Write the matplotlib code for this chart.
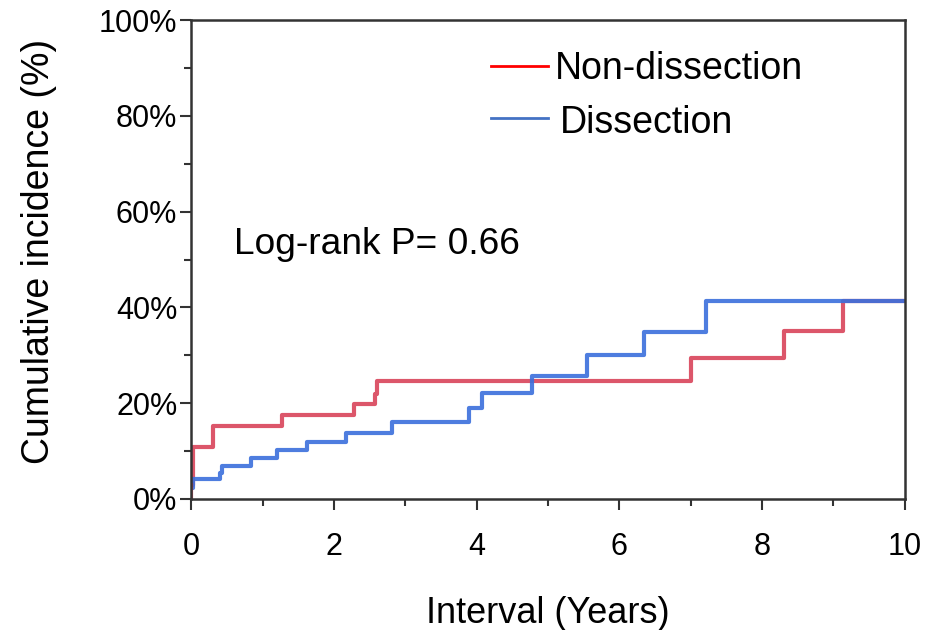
import matplotlib
matplotlib.use("Agg")
import matplotlib.pyplot as plt
from matplotlib.ticker import MultipleLocator, FuncFormatter

plt.rcParams['font.family'] = ['Liberation Sans', 'DejaVu Sans']

# Non-dissection step curve (years, cumulative incidence %)
red_t = [0, 0.02, 0.30, 0.31, 0.34, 1.27, 2.28, 2.57, 2.60, 7.01, 8.31, 9.14, 10]
red_y = [3.0, 10.9, 13.0, 15.3, 15.3, 17.5, 19.8, 22.0, 24.7, 29.5, 35.1, 41.4, 41.4]

# Dissection step curve
blue_t = [0, 0.02, 0.40, 0.43, 0.84, 1.20, 1.62, 2.17, 2.81, 3.90, 4.07, 4.78, 5.54, 6.34, 7.22, 10]
blue_y = [2.3, 4.2, 5.4, 6.9, 8.5, 10.2, 12.0, 13.7, 16.0, 19.1, 22.1, 25.7, 30.0, 34.9, 41.4, 41.4]

fig = plt.figure(figsize=(9.28, 6.3), dpi=100)
ax = fig.add_axes([0.206, 0.208, 0.769, 0.760])

ax.step(red_t, red_y, where='post', color='#d9435a', lw=3, alpha=0.9)
ax.step(blue_t, blue_y, where='post', color='#3b6fdc', lw=3, alpha=0.9)
ax.plot([0, 0], [0, red_y[0]], color='#d9435a', lw=3, alpha=0.9)

ax.set_xlim(0, 10)
ax.set_ylim(0, 100)
ax.xaxis.set_major_locator(MultipleLocator(2))
ax.xaxis.set_minor_locator(MultipleLocator(1))
ax.yaxis.set_major_locator(MultipleLocator(20))
ax.yaxis.set_minor_locator(MultipleLocator(10))
ax.yaxis.set_major_formatter(FuncFormatter(lambda v, p: '%d%%' % v))
ax.tick_params(which='both', direction='out', width=1.5, color='#333333', labelsize=22)
ax.tick_params(which='major', length=8)
ax.tick_params(which='minor', length=5)
ax.tick_params(axis='x', pad=16)
ax.tick_params(axis='y', pad=2)
for s in ax.spines.values():
    s.set_linewidth(1.8)
    s.set_color('#333333')

ax.set_xlabel('Interval (Years)', fontsize=26, labelpad=24)
ax.set_ylabel('Cumulative incidence (%)', fontsize=27, labelpad=30)
ax.yaxis.label.set_y(0.517)

ax.text(0.6, 53.2, 'Log-rank P= 0.66', fontsize=26.7, va='center')

# legend drawn manually
ax.plot([4.2, 5.0], [90.5, 90.5], color='#ff0000', lw=2)
ax.text(5.1, 89.8, 'Non-dissection', fontsize=27, va='center')
ax.plot([4.2, 5.0], [79.5, 79.5], color='#4472c4', lw=2)
ax.text(5.17, 78.6, 'Dissection', fontsize=27, va='center')

fig.savefig('out.png', dpi=100)
